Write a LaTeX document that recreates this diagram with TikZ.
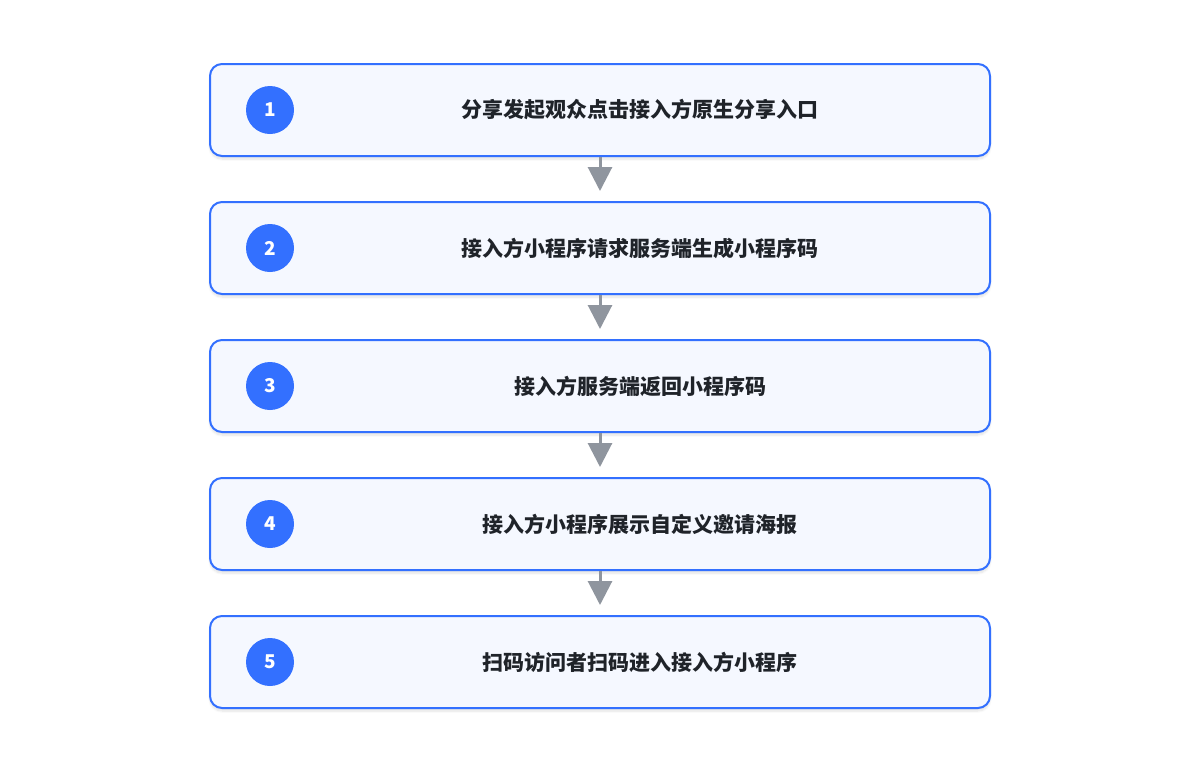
\documentclass[tikz,border=0pt]{standalone}
\usepackage{fontspec}
\setmainfont{Noto Sans CJK SC}
\usetikzlibrary{arrows.meta,shadows.blur}
\definecolor{stepblue}{HTML}{3370FF}
\definecolor{stepfill}{HTML}{F5F8FF}
\definecolor{arrowgray}{HTML}{8F959E}
\definecolor{textdark}{HTML}{1F2329}
\tikzset{
	stepbox/.style={draw=stepblue, line width=2pt, fill=stepfill, rounded corners=12pt,
		minimum width=780pt, minimum height=92pt,
		blur shadow={shadow xshift=0pt, shadow yshift=-3pt, shadow blur steps=8, shadow opacity=12}},
	stepnum/.style={circle, fill=stepblue, minimum size=48pt, inner sep=0pt,
		text=white, font=\fontsize{19pt}{19pt}\selectfont\bfseries},
	steptext/.style={text=textdark, font=\fontsize{21pt}{22pt}\selectfont\bfseries},
	steparrow/.style={draw=arrowgray, line width=3pt, shorten >=10pt,
		-{Triangle[length=24pt,width=24pt]}}
}
\begin{document}
\begin{tikzpicture}[x=1pt,y=-1pt]
	\useasboundingbox (0,0) rectangle (1200,772);
	
	\node[stepbox] (box1) at (600,110) {};
	\node[stepbox] (box2) at (600,248) {};
	\node[stepbox] (box3) at (600,386) {};
	\node[stepbox] (box4) at (600,524) {};
	\node[stepbox] (box5) at (600,662) {};
	
	\node[stepnum] (num1) at (270,110) {1};
	\node[stepnum] (num2) at (270,248) {2};
	\node[stepnum] (num3) at (270,386) {3};
	\node[stepnum] (num4) at (270,524) {4};
	\node[stepnum] (num5) at (270,662) {5};
	
	\node[steptext] (text1) at (640,110) {分享发起观众点击接入方原生分享入口};
	\node[steptext] (text2) at (640,248) {接入方小程序请求服务端生成小程序码};
	\node[steptext] (text3) at (640,386) {接入方服务端返回小程序码};
	\node[steptext] (text4) at (640,524) {接入方小程序展示自定义邀请海报};
	\node[steptext] (text5) at (640,662) {扫码访问者扫码进入接入方小程序};
	
	\draw[steparrow] (box1.south) -- (box2.north);
	\draw[steparrow] (box2.south) -- (box3.north);
	\draw[steparrow] (box3.south) -- (box4.north);
	\draw[steparrow] (box4.south) -- (box5.north);
	
\end{tikzpicture}
\end{document}
